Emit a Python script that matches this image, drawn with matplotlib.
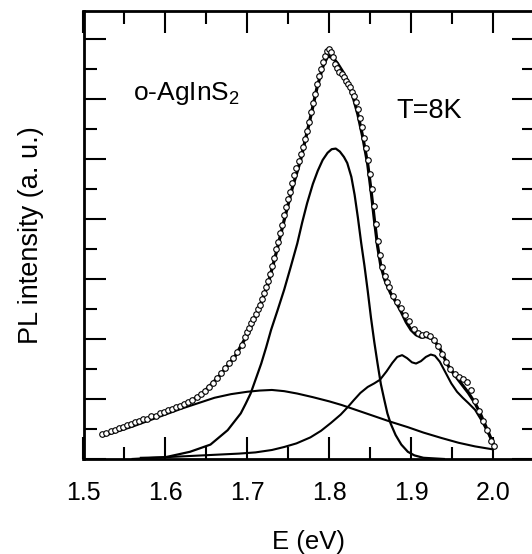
import matplotlib
matplotlib.use('Agg')
import matplotlib.pyplot as plt
from matplotlib.ticker import MultipleLocator, NullFormatter

plt.rcParams['font.family'] = ['Liberation Sans', 'DejaVu Sans']
plt.rcParams['mathtext.fontset'] = 'custom'
plt.rcParams['mathtext.rm'] = 'Liberation Sans'
plt.rcParams['mathtext.it'] = 'Liberation Sans:italic'

# measured PL spectrum (open circles)
data_e = [1.523, 1.528, 1.533, 1.538, 1.543, 1.548, 1.553, 1.558, 1.563, 1.568,
          1.573, 1.578, 1.583, 1.588, 1.593, 1.598, 1.603, 1.608, 1.613, 1.618,
          1.623, 1.628, 1.633, 1.638, 1.643, 1.648, 1.653, 1.658, 1.663, 1.668,
          1.673, 1.678, 1.683, 1.688, 1.693,
          1.6975, 1.700, 1.7025, 1.705, 1.7075, 1.710, 1.7125, 1.715, 1.7175, 1.720,
          1.7225, 1.725, 1.7275, 1.730, 1.7325, 1.735, 1.7375, 1.740, 1.7425, 1.745,
          1.7475, 1.750, 1.7525, 1.755, 1.7575, 1.760, 1.7625, 1.765, 1.7675, 1.770,
          1.7725, 1.775, 1.7775, 1.780, 1.7825, 1.785, 1.7875, 1.790, 1.7925, 1.795,
          1.7975, 1.800, 1.8025, 1.805, 1.8075, 1.810, 1.8125, 1.815, 1.8175, 1.820,
          1.8225, 1.825, 1.8275, 1.830, 1.8325, 1.835, 1.8375, 1.840, 1.8425, 1.845,
          1.8475, 1.850, 1.8525, 1.855, 1.8575, 1.860, 1.8625, 1.865, 1.8675, 1.870,
          1.873, 1.878, 1.883, 1.888, 1.893, 1.898, 1.903, 1.908, 1.913, 1.918,
          1.923, 1.928, 1.933, 1.938, 1.943, 1.948, 1.953, 1.958, 1.963, 1.968,
          1.973, 1.978, 1.983, 1.988, 1.993, 1.998, 2.001]
data_i = [0.42, 0.44, 0.47, 0.48, 0.52, 0.53, 0.57, 0.58, 0.61, 0.63,
          0.66, 0.67, 0.71, 0.72, 0.76, 0.78, 0.81, 0.83, 0.86, 0.88,
          0.92, 0.95, 0.99, 1.03, 1.08, 1.14, 1.20, 1.27, 1.35, 1.43,
          1.51, 1.60, 1.69, 1.79, 1.90,
          2.04, 2.11, 2.18, 2.26, 2.33, 2.41, 2.50, 2.57, 2.67, 2.76,
          2.87, 2.97, 3.08, 3.22, 3.35, 3.49, 3.62, 3.77, 3.90, 4.06,
          4.20, 4.33, 4.45, 4.60, 4.73, 4.85, 4.97, 5.08, 5.20, 5.33,
          5.47, 5.62, 5.78, 5.93, 6.08, 6.24, 6.38, 6.50, 6.62, 6.72,
          6.80, 6.83, 6.78, 6.70, 6.58, 6.52, 6.45, 6.42, 6.37, 6.30,
          6.25, 6.20, 6.12, 6.04, 5.94, 5.83, 5.68, 5.53, 5.35, 5.18,
          4.98, 4.75, 4.50, 4.22, 3.92, 3.63, 3.40, 3.20, 3.05, 2.95,
          2.86, 2.72, 2.62, 2.52, 2.40, 2.30, 2.17, 2.10, 2.07, 2.08,
          2.05, 1.98, 1.88, 1.75, 1.61, 1.50, 1.42, 1.36, 1.33, 1.28,
          1.15, 0.97, 0.80, 0.63, 0.48, 0.30, 0.22]

# total fit (thick line)
fit_e = [1.524, 1.550, 1.575, 1.600, 1.625, 1.645, 1.665, 1.685, 1.700, 1.713,
         1.725, 1.735, 1.745, 1.755, 1.765, 1.775, 1.785, 1.792, 1.798, 1.804,
         1.810, 1.816, 1.822, 1.829, 1.835, 1.841, 1.847, 1.851, 1.855, 1.859,
         1.863, 1.868, 1.875, 1.882, 1.888, 1.894, 1.900, 1.906, 1.912, 1.918,
         1.925, 1.930, 1.935, 1.940, 1.945, 1.952, 1.961, 1.970, 1.978, 1.984,
         1.990, 1.995, 2.000]
fit_i = [0.40, 0.53, 0.64, 0.77, 0.91, 1.09, 1.37, 1.71, 2.07, 2.46,
         2.90, 3.42, 3.98, 4.52, 4.98, 5.56, 6.18, 6.53, 6.71, 6.69,
         6.59, 6.46, 6.31, 6.04, 5.74, 5.36, 4.91, 4.48, 4.00, 3.55,
         3.22, 2.98, 2.76, 2.60, 2.45, 2.28, 2.15, 2.07, 2.03, 2.04,
         2.01, 1.94, 1.84, 1.70, 1.56, 1.42, 1.26, 1.10, 0.93, 0.77,
         0.58, 0.42, 0.26]

# main (narrow) component
peak_e = [1.560, 1.600, 1.630, 1.655, 1.676, 1.684, 1.692, 1.698, 1.704, 1.710,
          1.717, 1.723, 1.729, 1.737, 1.745, 1.753, 1.761, 1.767, 1.773, 1.780,
          1.786, 1.792, 1.798, 1.803, 1.808, 1.813, 1.818, 1.822, 1.827, 1.831,
          1.835, 1.839, 1.843, 1.847, 1.851, 1.855, 1.859, 1.863, 1.867, 1.871,
          1.875, 1.881, 1.888, 1.896, 1.904, 1.915, 1.940]
peak_i = [0.00, 0.03, 0.12, 0.24, 0.48, 0.62, 0.76, 0.92, 1.09, 1.32,
          1.59, 1.86, 2.15, 2.48, 2.82, 3.20, 3.59, 3.94, 4.26, 4.58,
          4.80, 4.98, 5.10, 5.16, 5.17, 5.12, 5.03, 4.93, 4.70, 4.40,
          4.02, 3.60, 3.22, 2.80, 2.35, 1.95, 1.59, 1.25, 1.00, 0.76,
          0.59, 0.40, 0.24, 0.12, 0.06, 0.02, 0.00]

# broad low-energy band
broad_e = [1.524, 1.540, 1.560, 1.580, 1.600, 1.620, 1.640, 1.660, 1.680, 1.700,
           1.715, 1.730, 1.745, 1.761, 1.780, 1.800, 1.815, 1.830, 1.845, 1.860,
           1.875, 1.896, 1.915, 1.937, 1.958, 1.978, 2.000]
broad_i = [0.38, 0.45, 0.54, 0.64, 0.74, 0.84, 0.93, 1.02, 1.08, 1.12,
           1.14, 1.15, 1.13, 1.09, 1.03, 0.96, 0.90, 0.83, 0.76, 0.69,
           0.62, 0.53, 0.44, 0.35, 0.27, 0.21, 0.16]

# structured high-energy band
struct_e = [1.570, 1.600, 1.630, 1.660, 1.690, 1.710, 1.730, 1.745, 1.760, 1.777,
            1.790, 1.802, 1.814, 1.823, 1.830, 1.838, 1.847, 1.855, 1.862, 1.870,
            1.877, 1.883, 1.889, 1.895, 1.901, 1.906, 1.912, 1.918, 1.924, 1.929,
            1.935, 1.942, 1.949, 1.956, 1.963, 1.970, 1.978, 1.986, 1.994, 2.002]
struct_i = [0.02, 0.03, 0.05, 0.07, 0.09, 0.11, 0.15, 0.20, 0.26, 0.36,
            0.47, 0.60, 0.74, 0.87, 0.98, 1.10, 1.20, 1.26, 1.32, 1.46,
            1.60, 1.70, 1.73, 1.68, 1.61, 1.59, 1.63, 1.70, 1.74, 1.72,
            1.62, 1.44, 1.26, 1.12, 1.02, 0.93, 0.82, 0.64, 0.43, 0.23]

fig = plt.figure(figsize=(5.32, 5.54), dpi=100)
ax = fig.add_axes([83.5 / 532, 95 / 554, 450.5 / 532, 448.5 / 554])

ax.plot(broad_e, broad_i, color='black', lw=1.5)
ax.plot(struct_e, struct_i, color='black', lw=1.5)
ax.plot(peak_e, peak_i, color='black', lw=1.6)
ax.plot(fit_e, fit_i, color='black', lw=2.3)
ax.plot(data_e, data_i, 'o', ms=4, mfc='white', mec='black', mew=0.8)

ax.set_xlim(1.5, 2.05)
ax.set_ylim(0, 7.47)

ax.xaxis.set_major_locator(MultipleLocator(0.1))
ax.xaxis.set_minor_locator(MultipleLocator(0.05))
ax.yaxis.set_major_locator(MultipleLocator(1))
ax.yaxis.set_minor_locator(MultipleLocator(0.5))
ax.yaxis.set_major_formatter(NullFormatter())

ax.tick_params(which='both', direction='in', top=True, right=True, width=1.5)
ax.tick_params(which='major', length=16)
ax.tick_params(which='minor', length=9)
ax.tick_params(axis='x', which='major', labelsize=18, pad=16)

for s in ['left', 'bottom', 'top']:
    ax.spines[s].set_linewidth(2)
ax.spines['right'].set_visible(False)

ax.set_xlabel('E (eV)', fontsize=18.5, labelpad=18)
ax.set_ylabel('PL intensity (a. u.)', fontsize=19.5, labelpad=25)

ax.text(1.560, 5.98, 'o-AgInS$_2$', fontsize=19, ha='left', va='baseline')
ax.text(1.882, 5.68, 'T=8K', fontsize=19.5, ha='left', va='baseline')

fig.savefig('out.png', dpi=100)
